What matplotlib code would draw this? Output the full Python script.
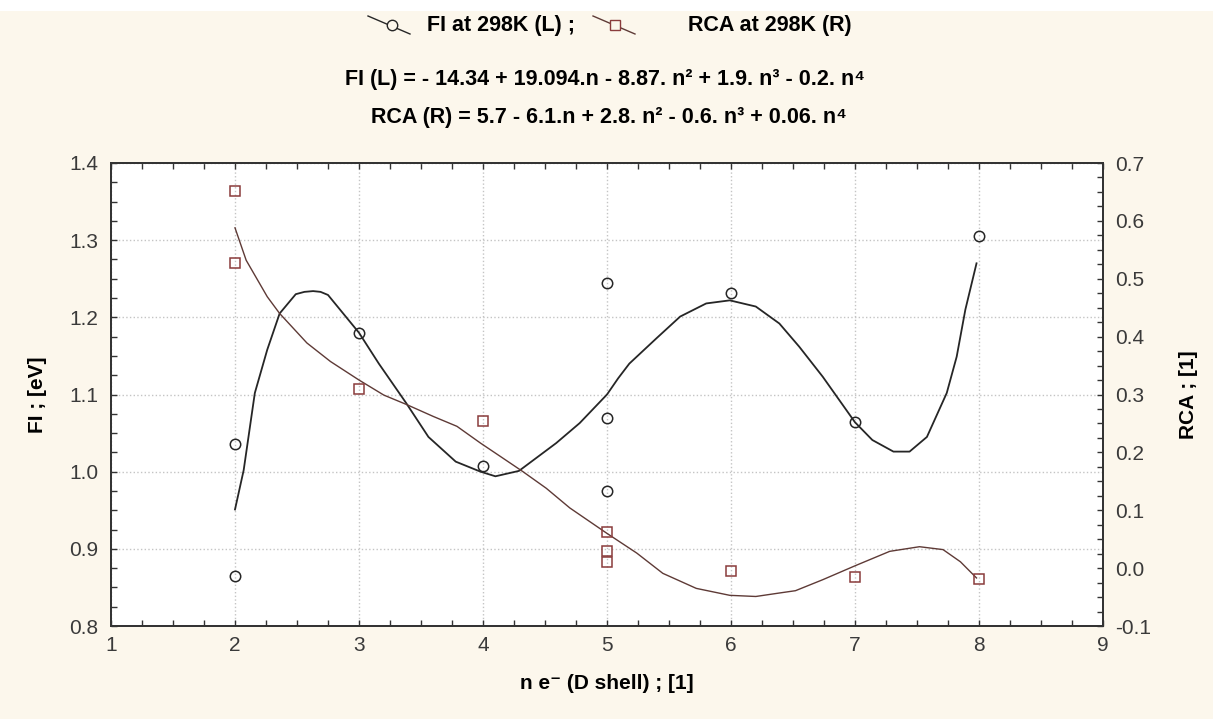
# FI and RCA vs number of d electrons, two y axes (left FI, right RCA)
import matplotlib.pyplot as plt
from matplotlib.lines import Line2D
from matplotlib.patches import Rectangle
from matplotlib.ticker import MultipleLocator, FormatStrFormatter

plt.rcParams['font.family'] = ['Liberation Sans', 'DejaVu Sans']

# measured points
fi_n = [2, 2, 3, 4, 5, 5, 5, 6, 7, 8]
fi_v = [1.036, 0.865, 1.180, 1.007, 1.244, 1.070, 0.975, 1.232, 1.064, 1.305]
rca_n = [2, 2, 3, 4, 5, 5, 5, 6, 7, 8]
rca_v = [0.652, 0.527, 0.310, 0.254, 0.062, 0.029, 0.011, -0.005, -0.016, -0.018]

# fitted curves
fi_curve_n = [2.0, 2.07, 2.16, 2.26, 2.36, 2.49, 2.56, 2.63, 2.69, 2.75, 3.0, 3.16, 3.38,
              3.56, 3.78, 3.98, 4.10, 4.29, 4.59, 4.78, 5.0, 5.09, 5.18, 5.40, 5.59, 5.80,
              5.99, 6.20, 6.39, 6.55, 6.74, 7.0, 7.14, 7.31, 7.44, 7.58, 7.74, 7.82, 7.89,
              7.98]
fi_curve_v = [0.951, 1.002, 1.102, 1.158, 1.205, 1.230, 1.233, 1.234, 1.233, 1.229, 1.180,
              1.140, 1.089, 1.045, 1.013, 1.000, 0.994, 1.001, 1.037, 1.063, 1.100, 1.121,
              1.140, 1.173, 1.201, 1.218, 1.222, 1.214, 1.192, 1.162, 1.123, 1.064, 1.041,
              1.026, 1.026, 1.045, 1.102, 1.149, 1.210, 1.270]
rca_curve_n = [2.0, 2.09, 2.26, 2.36, 2.58, 2.77, 3.0, 3.20, 3.38, 3.60, 3.79, 3.98, 4.14,
               4.32, 4.51, 4.70, 5.0, 5.24, 5.45, 5.72, 5.99, 6.20, 6.39, 6.52, 6.74, 7.0,
               7.28, 7.52, 7.71, 7.85, 7.98]
rca_curve_v = [0.588, 0.532, 0.469, 0.440, 0.389, 0.357, 0.325, 0.299, 0.283, 0.262, 0.245,
               0.216, 0.193, 0.167, 0.138, 0.104, 0.060, 0.026, -0.009, -0.035, -0.047,
               -0.049, -0.043, -0.039, -0.020, 0.004, 0.029, 0.037, 0.032, 0.011, -0.017]

fi_label = "FI at 298K (L) ;"
rca_label = "RCA at 298K (R)"
eq_fi = "FI (L) = - 14.34 + 19.094.n - 8.87. n\u00b2 + 1.9. n\u00b3 - 0.2. n\u2074"
eq_rca = "RCA (R) = 5.7 - 6.1.n + 2.8. n\u00b2 - 0.6. n\u00b3 + 0.06. n\u2074"

W, H = 1213, 719
bg = '#fcf7ec'
fi_col = '#262626'
rca_col = '#8a3c3c'
tick_col = '#3a3a3a'

fig = plt.figure(figsize=(W / 100, H / 100), dpi=100, facecolor=bg)
# white strip along the top edge
fig.patches.append(Rectangle((0, 1 - 11 / H), 1, 11 / H, transform=fig.transFigure,
                             facecolor='white', edgecolor='none', zorder=0))

ax = fig.add_axes([111 / W, 1 - 626 / H, 992 / W, 463 / H])
ax.set_facecolor('white')
ax2 = ax.twinx()

ax.plot(fi_curve_n, fi_curve_v, color=fi_col, lw=1.3, zorder=3)
ax.plot(fi_n, fi_v, ls='none', marker='o', ms=7.5, mfc='none', mec=fi_col, mew=1.1, zorder=4)
ax2.plot(rca_curve_n, rca_curve_v, color='#5e3a36', lw=1.0, zorder=3)
ax2.plot(rca_n, rca_v, ls='none', marker='s', ms=7.5, mfc='none', mec=rca_col, mew=1.1, zorder=4)

# axes limits and ticks
ax.set_xlim(1, 9)
ax.set_ylim(0.8, 1.4)
ax2.set_ylim(-0.1, 0.7)
ax.xaxis.set_major_locator(MultipleLocator(1))
ax.xaxis.set_minor_locator(MultipleLocator(0.25))
ax.yaxis.set_major_locator(MultipleLocator(0.1))
ax.yaxis.set_minor_locator(MultipleLocator(0.025))
ax.yaxis.set_major_formatter(FormatStrFormatter('%.1f'))
ax2.yaxis.set_major_locator(MultipleLocator(0.1))
ax2.yaxis.set_minor_locator(MultipleLocator(0.025))
ax2.yaxis.set_major_formatter(FormatStrFormatter('%.1f'))

ax.tick_params(axis='x', which='both', direction='in', top=True, bottom=True, length=4,
               width=1, color='#333333')
ax.tick_params(axis='y', which='both', direction='in', left=True, right=False, length=4,
               width=1, color='#333333')
ax2.tick_params(axis='y', which='both', direction='in', right=True, left=False, length=4,
                width=1, color='#333333')
ax.tick_params(axis='x', which='major', labelsize=15, labelcolor=tick_col, pad=7)
ax.tick_params(axis='y', which='major', labelsize=15, labelcolor=tick_col, pad=9)
ax2.tick_params(axis='y', which='major', labelsize=15, labelcolor=tick_col, pad=9)

ax.grid(True, which='major', ls=':', color='#c4c4c4', lw=1)
for a in (ax, ax2):
    for s in a.spines.values():
        s.set_color('#333333')
        s.set_linewidth(1.3)

ax.set_xlabel("n e\u207b (D shell) ; [1]", fontsize=15, fontweight='bold', labelpad=14)
ax.set_ylabel("FI ; [eV]", fontsize=15, fontweight='bold', labelpad=16)
ax2.set_ylabel("RCA ; [1]", fontsize=15, fontweight='bold', labelpad=20)

# legend line at the top, drawn by hand like the original
def fx(px):
    return px / W

def fy(py):
    return 1 - py / H

fig.add_artist(Line2D([fx(368), fx(410)], [fy(16), fy(34)], transform=fig.transFigure,
                      color=fi_col, lw=1))
fig.add_artist(Line2D([fx(392)], [fy(25)], transform=fig.transFigure, ls='none',
                      marker='o', ms=7.5, mfc=bg, mec=fi_col, mew=1))
fig.text(fx(427), fy(25), fi_label, fontsize=15.5, fontweight='bold', va='center', ha='left')
fig.add_artist(Line2D([fx(593), fx(635)], [fy(16), fy(34)], transform=fig.transFigure,
                      color='#5e3a36', lw=1))
fig.add_artist(Line2D([fx(615)], [fy(25)], transform=fig.transFigure, ls='none',
                      marker='s', ms=7.5, mfc=bg, mec=rca_col, mew=1))
fig.text(fx(688), fy(25), rca_label, fontsize=15.5, fontweight='bold', va='center', ha='left')

fig.text(fx(605), fy(79), eq_fi, fontsize=15.5, fontweight='bold', va='center', ha='center')
fig.text(fx(609), fy(117), eq_rca, fontsize=15.5, fontweight='bold', va='center', ha='center')

fig.savefig('out.png', dpi=100, facecolor=bg)
